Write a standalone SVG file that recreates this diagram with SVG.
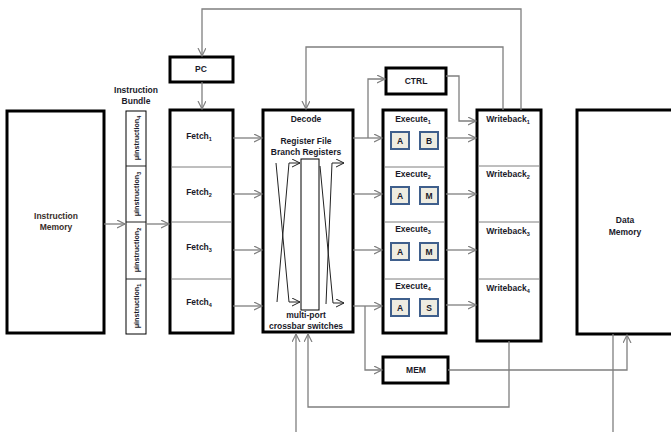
<svg xmlns="http://www.w3.org/2000/svg" width="671" height="432" viewBox="0 0 671 432">
<style>
.box{fill:#fff;stroke:#000;stroke-width:3}
.thin{fill:#fff;stroke:#000;stroke-width:1}
.div{stroke:#7f7f7f;stroke-width:1}
.unit{fill:#eeece1;stroke:#3f5f8c;stroke-width:2}
.c{fill:none;stroke:#7f7f7f;stroke-width:1.3}
.k{fill:none;stroke:#222;stroke-width:1}
text{font-family:"Liberation Sans",Arial,sans-serif;font-size:8.5px;font-weight:bold;fill:#1a1a2a;text-anchor:middle}
.s{font-size:5.5px}
.u{font-size:7.2px}
</style>
<defs>
<marker id="a" markerUnits="userSpaceOnUse" markerWidth="10" markerHeight="10" refX="8" refY="4" orient="auto"><path d="M0,0 L8,4 L0,8" fill="none" stroke="#7f7f7f" stroke-width="1.2"/></marker>
<marker id="b" markerUnits="userSpaceOnUse" markerWidth="10" markerHeight="10" refX="8" refY="4" orient="auto"><path d="M0,0 L8,4 L0,8" fill="none" stroke="#222" stroke-width="1"/></marker>
</defs>

<g id="imem">
<rect class="box" x="7" y="111" width="97" height="222"/>
<text x="56" y="219" style="fill:#3a2e2a">Instruction</text>
<text x="56" y="230" style="fill:#3a2e2a">Memory</text>
</g>

<g id="bundle">
<text x="136" y="93">Instruction</text>
<text x="136" y="104">Bundle</text>
<rect class="thin" x="126" y="111" width="20" height="223"/>
<line class="k" x1="126" y1="166" x2="146" y2="166"/>
<line class="k" x1="126" y1="222" x2="146" y2="222"/>
<line class="k" x1="126" y1="279" x2="146" y2="279"/>
<text class="u" transform="translate(139,138) rotate(-90)">μinstruction<tspan class="s" dy="2">4</tspan></text>
<text class="u" transform="translate(139,194) rotate(-90)">μinstruction<tspan class="s" dy="2">3</tspan></text>
<text class="u" transform="translate(139,250) rotate(-90)">μinstruction<tspan class="s" dy="2">2</tspan></text>
<text class="u" transform="translate(139,306) rotate(-90)">μinstruction<tspan class="s" dy="2">1</tspan></text>
</g>

<g id="pc">
<rect class="box" x="170" y="57" width="63" height="25"/>
<text x="201" y="72">PC</text>
</g>

<g id="fetch">
<rect class="box" x="170" y="110" width="63" height="223"/>
<line class="div" x1="171" y1="167" x2="232" y2="167"/>
<line class="div" x1="171" y1="222" x2="232" y2="222"/>
<line class="div" x1="171" y1="279" x2="232" y2="279"/>
<text x="199" y="139">Fetch<tspan class="s" dy="2">1</tspan></text>
<text x="199" y="195">Fetch<tspan class="s" dy="2">2</tspan></text>
<text x="199" y="250">Fetch<tspan class="s" dy="2">3</tspan></text>
<text x="199" y="305">Fetch<tspan class="s" dy="2">4</tspan></text>
</g>

<g id="decode">
<rect class="box" x="263" y="110" width="90" height="222"/>
<text x="306" y="122">Decode</text>
<text x="306" y="144">Register File</text>
<text x="306" y="155">Branch Registers</text>
<rect class="thin" x="301" y="159" width="18" height="151"/>
<path class="k" d="M276,163 L289,302 H300" marker-end="url(#b)"/>
<path class="k" d="M277,302 L289,163 H300" marker-end="url(#b)"/>
<path class="k" d="M320,166 L333,303 H344" marker-end="url(#b)"/>
<path class="k" d="M326,304 L332,163 H344" marker-end="url(#b)"/>
<text x="306" y="318">multi-port</text>
<text x="306" y="329">crossbar switches</text>
</g>

<g id="ctrl">
<rect class="box" x="386" y="68" width="60" height="26"/>
<text x="416" y="84">CTRL</text>
</g>

<g id="execute">
<rect class="box" x="383" y="110" width="63" height="223"/>
<line class="div" x1="384" y1="167" x2="445" y2="167"/>
<line class="div" x1="384" y1="222" x2="445" y2="222"/>
<line class="div" x1="384" y1="279" x2="445" y2="279"/>
<text x="413" y="122">Execute<tspan class="s" dy="2">1</tspan></text>
<text x="413" y="177">Execute<tspan class="s" dy="2">2</tspan></text>
<text x="413" y="232">Execute<tspan class="s" dy="2">3</tspan></text>
<text x="413" y="289">Execute<tspan class="s" dy="2">4</tspan></text>
<rect class="unit" x="391" y="132" width="18" height="17"/><text x="400" y="144">A</text>
<rect class="unit" x="420" y="132" width="18" height="17"/><text x="429" y="144">B</text>
<rect class="unit" x="391" y="187" width="18" height="17"/><text x="400" y="199">A</text>
<rect class="unit" x="420" y="187" width="18" height="17"/><text x="429" y="199">M</text>
<rect class="unit" x="391" y="243" width="18" height="17"/><text x="400" y="255">A</text>
<rect class="unit" x="420" y="243" width="18" height="17"/><text x="429" y="255">M</text>
<rect class="unit" x="391" y="299" width="18" height="17"/><text x="400" y="311">A</text>
<rect class="unit" x="420" y="299" width="18" height="17"/><text x="429" y="311">S</text>
</g>

<g id="mem">
<rect class="box" x="383" y="357" width="65" height="26"/>
<text x="416" y="373">MEM</text>
</g>

<g id="writeback">
<rect class="box" x="477" y="110" width="64" height="231"/>
<line class="div" x1="478" y1="166" x2="540" y2="166"/>
<line class="div" x1="478" y1="222" x2="540" y2="222"/>
<line class="div" x1="478" y1="279" x2="540" y2="279"/>
<text x="508" y="122">Writeback<tspan class="s" dy="2">1</tspan></text>
<text x="508" y="177">Writeback<tspan class="s" dy="2">2</tspan></text>
<text x="508" y="234">Writeback<tspan class="s" dy="2">3</tspan></text>
<text x="508" y="291">Writeback<tspan class="s" dy="2">4</tspan></text>
</g>

<g id="dmem">
<rect class="box" x="577" y="110" width="100" height="224"/>
<text x="625" y="223">Data</text>
<text x="625" y="235">Memory</text>
</g>

<g id="connectors">
<path class="c" d="M104,224 H125" marker-end="url(#a)"/>
<path class="c" d="M146,224 H169" marker-end="url(#a)"/>
<path class="c" d="M202,82 V109" marker-end="url(#a)"/>
<path class="c" d="M521,110 V9 H202 V56" marker-end="url(#a)"/>
<path class="c" d="M503,110 V47 H306 V109" marker-end="url(#a)"/>
<path class="c" d="M233,138 H262" marker-end="url(#a)"/>
<path class="c" d="M233,194 H262" marker-end="url(#a)"/>
<path class="c" d="M233,250 H262" marker-end="url(#a)"/>
<path class="c" d="M233,306 H262" marker-end="url(#a)"/>
<path class="c" d="M353,138 H382" marker-end="url(#a)"/>
<path class="c" d="M353,194 H382" marker-end="url(#a)"/>
<path class="c" d="M353,250 H382" marker-end="url(#a)"/>
<path class="c" d="M353,306 H382" marker-end="url(#a)"/>
<path class="c" d="M446,138 H476" marker-end="url(#a)"/>
<path class="c" d="M446,194 H476" marker-end="url(#a)"/>
<path class="c" d="M446,250 H476" marker-end="url(#a)"/>
<path class="c" d="M446,305 H476" marker-end="url(#a)"/>
<path class="c" d="M368,138 V79 H385" marker-end="url(#a)"/>
<path class="c" d="M446,76 H459 V121 H476" marker-end="url(#a)"/>
<path class="c" d="M365,306 V370 H382" marker-end="url(#a)"/>
<path class="c" d="M448,370 H627 V335" marker-end="url(#a)"/>
<path class="c" d="M509,341 V407 H308 V334" marker-end="url(#a)"/>
<path class="c" d="M296,432 V334" marker-end="url(#a)"/>
<path class="c" d="M613,334 V432"/>
</g>
</svg>
